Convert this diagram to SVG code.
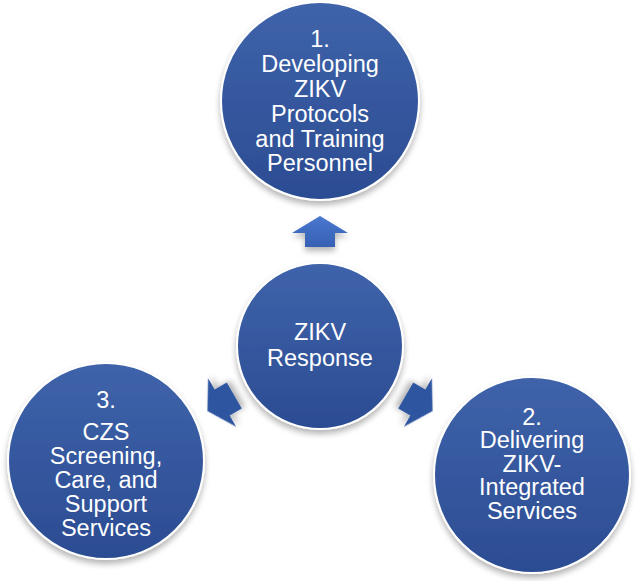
<svg xmlns="http://www.w3.org/2000/svg" width="640" height="581" viewBox="0 0 640 581">
  <defs>
    <linearGradient id="cg" x1="0" y1="0" x2="0" y2="1">
      <stop offset="0" stop-color="#3f63aa"/>
      <stop offset="1" stop-color="#2b4c92"/>
    </linearGradient>
    <linearGradient id="ag" x1="0" y1="0" x2="0" y2="1">
      <stop offset="0" stop-color="#4a78cf"/>
      <stop offset="1" stop-color="#3560b3"/>
    </linearGradient>
    <filter id="sh" x="-20%" y="-20%" width="140%" height="150%">
      <feGaussianBlur in="SourceAlpha" stdDeviation="3"/>
      <feOffset dx="0" dy="4" result="b"/>
      <feComponentTransfer><feFuncA type="linear" slope="0.3"/></feComponentTransfer>
      <feMerge><feMergeNode/><feMergeNode in="SourceGraphic"/></feMerge>
    </filter>
    <path id="arr" d="M0,-130 L28,-113 L15,-113 L15,-99 L-15,-99 L-15,-113 L-28,-113 Z"/>
  </defs>
  <style>
    .node circle { fill: url(#cg); stroke: #ffffff; stroke-width: 2; filter: url(#sh); }
    .node text { font-family: "Liberation Sans", Arial, sans-serif; font-size: 23.5px; fill: #ffffff; text-anchor: middle; }
    .conn use { fill: url(#ag); filter: url(#sh); }
    .conn use.side { fill: #2f55a0; }
  </style>
  <g class="conn" id="connectors">
    <use href="#arr" transform="translate(320,346)"/>
    <use class="side" href="#arr" transform="translate(320,346) rotate(120)"/>
    <use class="side" href="#arr" transform="translate(320,346) rotate(240)"/>
  </g>
  <g class="node" id="node-center">
    <circle cx="320" cy="346" r="83"/>
    <text x="320" y="340">ZIKV</text>
    <text x="320" y="366">Response</text>
  </g>
  <g class="node" id="node-1">
    <circle cx="320" cy="101" r="99"/>
    <text x="320" y="47">1.</text>
    <text x="320" y="72">Developing</text>
    <text x="320" y="97">ZIKV</text>
    <text x="320" y="122">Protocols</text>
    <text x="320" y="147">and Training</text>
    <text x="320" y="171">Personnel</text>
  </g>
  <g class="node" id="node-2">
    <circle cx="532" cy="475" r="98"/>
    <text x="532" y="425">2.</text>
    <text x="532" y="448">Delivering</text>
    <text x="532" y="472">ZIKV-</text>
    <text x="532" y="495">Integrated</text>
    <text x="532" y="519">Services</text>
  </g>
  <g class="node" id="node-3">
    <circle cx="106" cy="461" r="98"/>
    <text x="106" y="408">3.</text>
    <text x="106" y="440">CZS</text>
    <text x="106" y="464">Screening,</text>
    <text x="106" y="488">Care, and</text>
    <text x="106" y="512">Support</text>
    <text x="106" y="536">Services</text>
  </g>
</svg>
